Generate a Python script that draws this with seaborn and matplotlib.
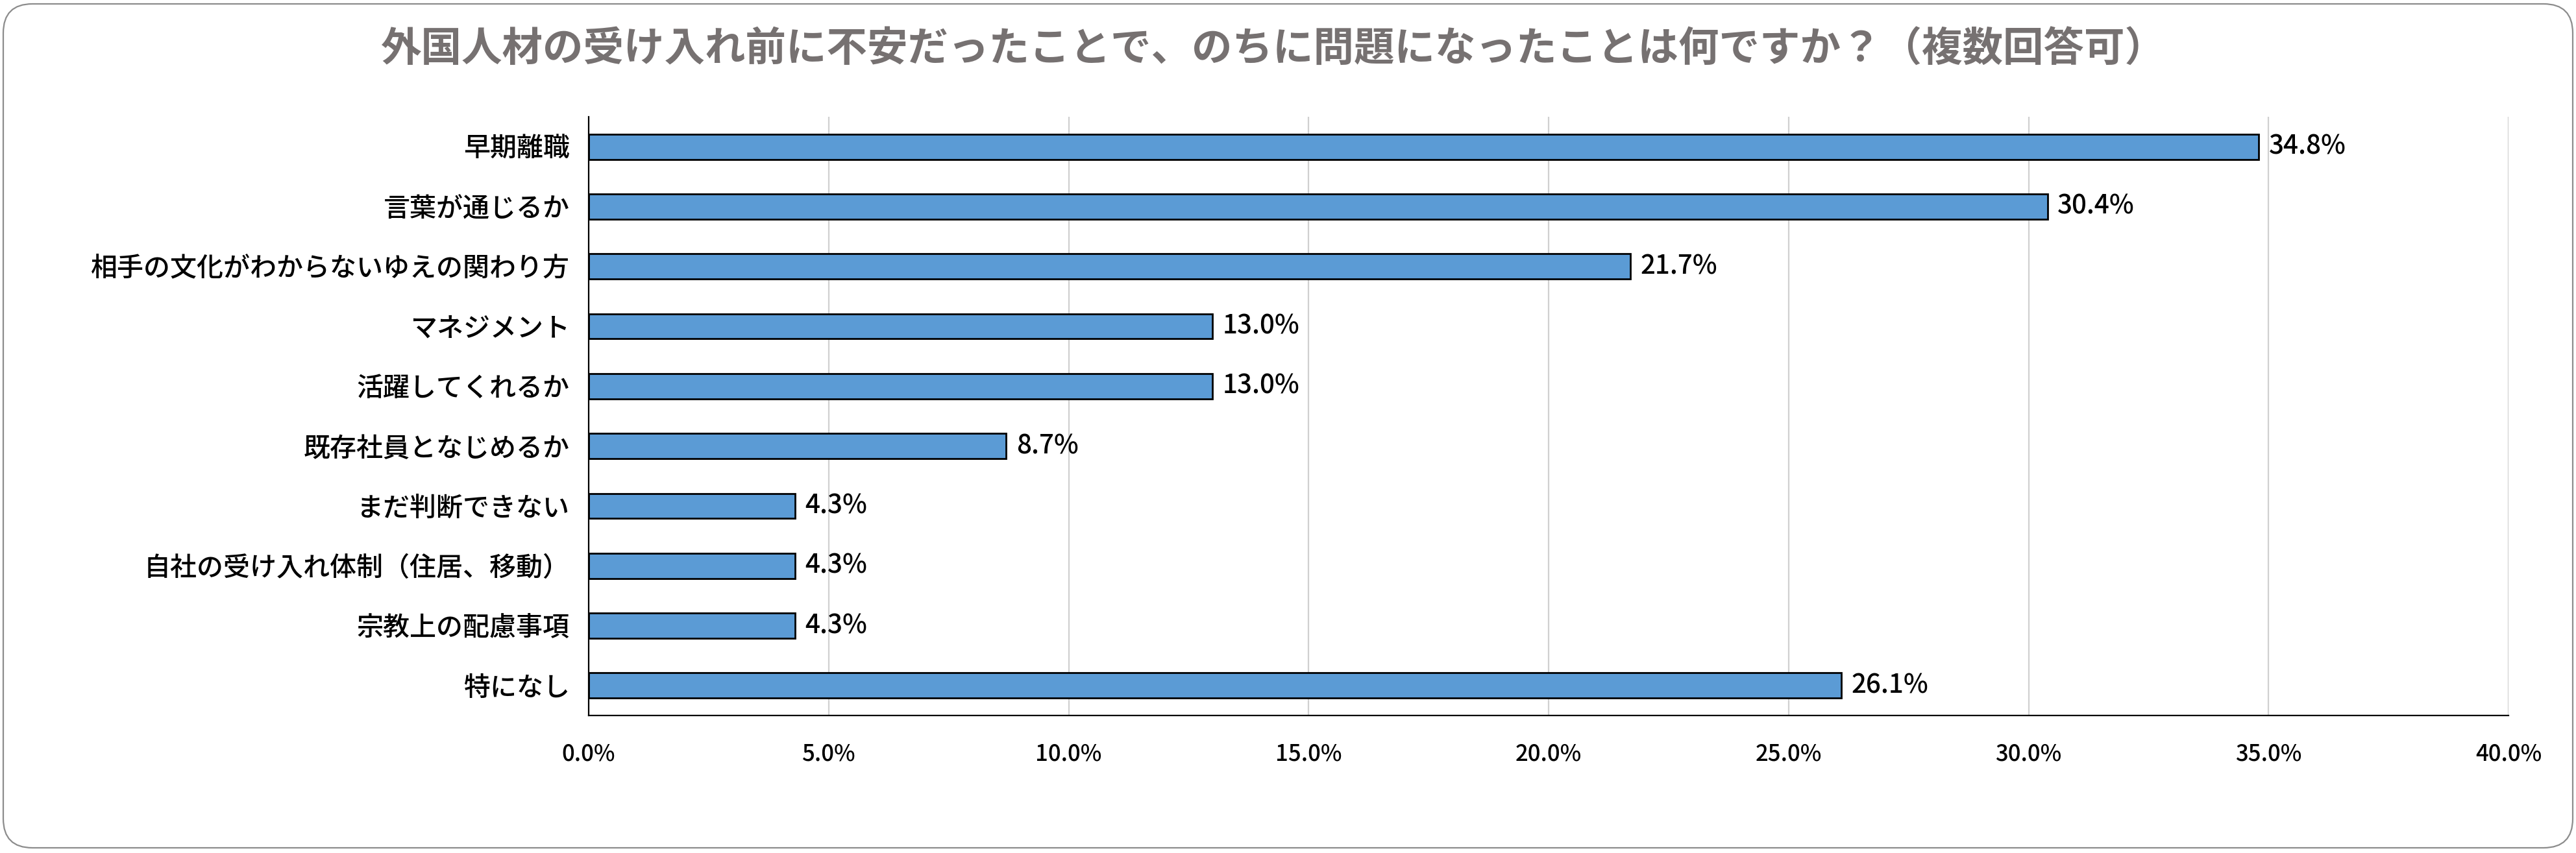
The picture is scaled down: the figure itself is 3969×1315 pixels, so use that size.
import matplotlib
matplotlib.use("Agg")
import matplotlib.pyplot as plt
import seaborn as sns
import pandas as pd
from matplotlib.patches import FancyBboxPatch
from matplotlib.transforms import IdentityTransform
from matplotlib.ticker import FuncFormatter

categories = [
    "早期離職",
    "言葉が通じるか",
    "相手の文化がわからないゆえの関わり方",
    "マネジメント",
    "活躍してくれるか",
    "既存社員となじめるか",
    "まだ判断できない",
    "自社の受け入れ体制（住居、移動）",
    "宗教上の配慮事項",
    "特になし",
]
values = [34.8, 30.4, 21.7, 13.0, 13.0, 8.7, 4.3, 4.3, 4.3, 26.1]
xticks = [0, 5, 10, 15, 20, 25, 30, 35, 40]
title = "外国人材の受け入れ前に不安だったことで、のちに問題になったことは何ですか？（複数回答可）"

sns.set_theme(style="white")
plt.rcParams["font.family"] = ["Noto Sans CJK JP", "DejaVu Sans"]

df = pd.DataFrame({"cat": categories, "val": values})

W, H = 3969, 1315
fig = plt.figure(figsize=(W / 100, H / 100), dpi=100)
ax = fig.add_axes([907 / W, 1 - 1103 / H, (3865 - 907) / W, (1103 - 180) / H])

sns.barplot(data=df, x="val", y="cat", orient="h", ax=ax, color="#5B9BD5",
            saturation=1, edgecolor="black", linewidth=2.0, width=0.42)

ax.set_xlim(0, 40)
ax.set_ylim(9.5, -0.5)
ax.set_xticks(xticks)
ax.xaxis.set_major_formatter(FuncFormatter(lambda v, p: f"{v:.1f}%"))
ax.set_xlabel("")
ax.set_ylabel("")
ax.grid(axis="x", color="#D0D0D0", linewidth=1.6)
ax.set_axisbelow(True)
for s in ["top", "right"]:
    ax.spines[s].set_visible(False)
for s in ["left", "bottom"]:
    ax.spines[s].set_color("black")
    ax.spines[s].set_linewidth(1.6)
ax.tick_params(axis="y", length=0, pad=21, labelsize=29.5, labelcolor="black")
ax.tick_params(axis="x", length=0, pad=30, labelsize=25, labelcolor="black")
for lab in ax.get_yticklabels() + ax.get_xticklabels():
    lab.set_fontweight("medium")

for i, v in enumerate(values):
    ax.annotate(f"{v:.1f}%", xy=(v, i), xytext=(11, 0), textcoords="offset points",
                va="center", ha="left", fontsize=29, fontweight="medium", color="black")

fig.text(0.494, 1 - 76 / H, title, ha="center", va="center", fontsize=45,
         fontweight="bold", color="#767171")

frame = FancyBboxPatch((5, 8), W - 10, H - 14, boxstyle="round,pad=0,rounding_size=45",
                       transform=IdentityTransform(), facecolor="none",
                       edgecolor="#8C8C8C", linewidth=1.6)
fig.patches.append(frame)

fig.savefig("out.png", dpi=100)
